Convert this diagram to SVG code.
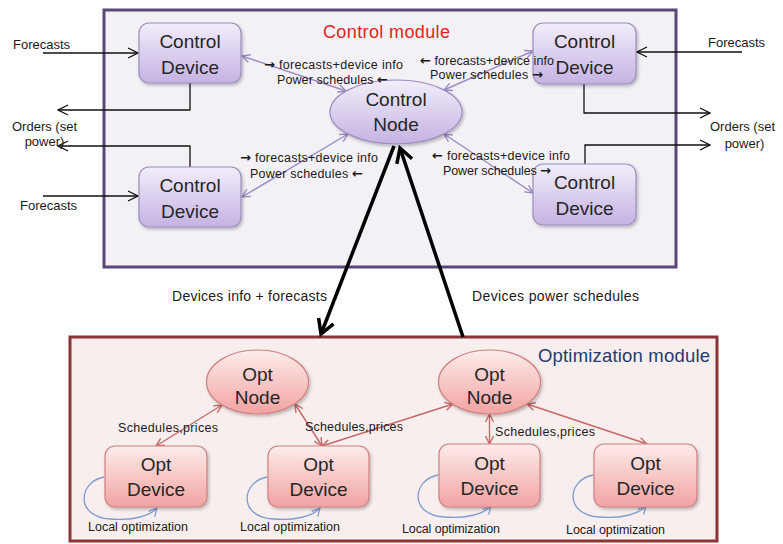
<svg xmlns="http://www.w3.org/2000/svg" width="783" height="544" viewBox="0 0 783 544">
<style>
text{font-family:"Liberation Sans",Arial,sans-serif;fill:#1a1a1a}
.ar{font-family:"DejaVu Sans",sans-serif;font-size:13px;font-weight:bold}
.nt{font-size:19px;text-anchor:middle;fill:#262626}
.lb{font-size:12.5px}
.ext{font-size:13px}
.big{font-size:14px}
.cn{fill:none;stroke:#9b8ac4;stroke-width:1.4;marker-start:url(#mp);marker-end:url(#mp)}
.rn{fill:none;stroke:#c46a68;stroke-width:1.4;marker-start:url(#mr);marker-end:url(#mr)}
.ex{fill:none;stroke:#111;stroke-width:1.3;marker-end:url(#mk)}
.bg{fill:none;stroke:#000;stroke-width:3.5;marker-end:url(#mb)}
.lp{fill:none;stroke:#7f9bd0;stroke-width:1.3;marker-end:url(#mu)}
.cd{fill:url(#gp);stroke:#9c8cbf;stroke-width:1.2;filter:url(#sh)}
.od{fill:url(#gr);stroke:#cf8080;stroke-width:1.2;filter:url(#sh)}
</style>
<defs>
<linearGradient id="gp" x1="0" y1="0" x2="0" y2="1"><stop offset="0" stop-color="#f2eefa"/><stop offset="1" stop-color="#c5b2e2"/></linearGradient>
<linearGradient id="gr" x1="0" y1="0" x2="0" y2="1"><stop offset="0" stop-color="#fdeceb"/><stop offset="1" stop-color="#f1a3a1"/></linearGradient>
<filter id="sh" x="-20%" y="-20%" width="140%" height="150%"><feDropShadow dx="1.5" dy="2" stdDeviation="1.5" flood-color="#000" flood-opacity="0.25"/></filter>
<marker id="mp" viewBox="0 0 10 10" refX="9" refY="5" markerWidth="10" markerHeight="10" markerUnits="userSpaceOnUse" orient="auto-start-reverse"><path d="M1,1 L9,5 L1,9" fill="none" stroke="#9b8ac4" stroke-width="1.4"/></marker>
<marker id="mr" viewBox="0 0 10 10" refX="9" refY="5" markerWidth="10" markerHeight="10" markerUnits="userSpaceOnUse" orient="auto-start-reverse"><path d="M1,1 L9,5 L1,9" fill="none" stroke="#c46a68" stroke-width="1.4"/></marker>
<marker id="mk" viewBox="0 0 12 12" refX="11" refY="6" markerWidth="12" markerHeight="12" markerUnits="userSpaceOnUse" orient="auto"><path d="M1,1 L11,6 L1,11" fill="none" stroke="#111" stroke-width="1.3"/></marker>
<marker id="mb" viewBox="0 0 20 20" refX="17" refY="10" markerWidth="20" markerHeight="20" markerUnits="userSpaceOnUse" orient="auto"><path d="M3,2 L17,10 L3,18" fill="none" stroke="#000" stroke-width="3.5"/></marker>
<marker id="mu" viewBox="0 0 10 10" refX="9" refY="5" markerWidth="10" markerHeight="10" markerUnits="userSpaceOnUse" orient="auto"><path d="M1,1 L9,5 L1,9" fill="none" stroke="#7f9bd0" stroke-width="1.3"/></marker>
</defs>
<rect width="783" height="544" fill="#fff"/>

<g id="control-module">
<rect x="104" y="10" width="572" height="257" fill="#f3f1f6" stroke="#5a4878" stroke-width="3"/>
<text x="323" y="38" font-size="18" style="fill:#e02424" textLength="127">Control module</text>
</g>
<g id="opt-module">
<rect x="70" y="337" width="647" height="204" fill="#f9eeee" stroke="#8a3535" stroke-width="3"/>
<text x="538" y="362" font-size="18.5" style="fill:#1f3a6e" textLength="172">Optimization module</text>
</g>

<g id="connectors">
<path class="cn" d="M242,56 L346,91"/>
<path class="cn" d="M444,90 L533,51"/>
<path class="cn" d="M348,134 L242,197"/>
<path class="cn" d="M444,134 L533,193"/>
<path class="ex" d="M43,53 H138"/>
<path class="ex" d="M190,83 V110 H58"/>
<path class="ex" d="M190,167 V146 H58"/>
<path class="ex" d="M43,196 H138"/>
<path class="ex" d="M742,52 H637"/>
<path class="ex" d="M584,84 V113 H710"/>
<path class="ex" d="M585,164 V145 H710"/>
<path class="bg" d="M394,146 L321,334"/>
<path class="bg" d="M463,337 L400,148"/>
<path class="rn" d="M222,405 L156,446"/>
<path class="rn" d="M295,404 L322,446"/>
<path class="rn" d="M453,404 L322,446"/>
<path class="rn" d="M489.5,414 L489.5,444"/>
<path class="rn" d="M527,404 L647,444"/>
<path class="lp" d="M104,477 C78,482 75,517 110,519 C132,521 150,516 157,508"/>
<path class="lp" d="M267,477 C241,482 238,517 273,519 C295,521 313,516 320,508"/>
<path class="lp" d="M438,475 C412,480 409,515 444,517 C466,519 484,514 491,506"/>
<path class="lp" d="M593,475 C567,480 564,515 599,517 C621,519 639,514 646,506"/>
</g>

<g id="control-device-tl">
<rect class="cd" x="139" y="23" width="102" height="60" rx="10"/>
<text class="nt" x="190" y="48">Control</text>
<text class="nt" x="190" y="74">Device</text>
</g>
<g id="control-device-tr">
<rect class="cd" x="533" y="23" width="103" height="61" rx="10"/>
<text class="nt" x="584.5" y="48">Control</text>
<text class="nt" x="584.5" y="74">Device</text>
</g>
<g id="control-device-bl">
<rect class="cd" x="139" y="167" width="102" height="60" rx="10"/>
<text class="nt" x="190" y="192">Control</text>
<text class="nt" x="190" y="218">Device</text>
</g>
<g id="control-device-br">
<rect class="cd" x="533" y="164" width="103" height="61" rx="10"/>
<text class="nt" x="584.5" y="189">Control</text>
<text class="nt" x="584.5" y="215">Device</text>
</g>
<g id="control-node">
<ellipse class="cd" cx="396" cy="112" rx="66" ry="32"/>
<text class="nt" x="396" y="106">Control</text>
<text class="nt" x="396" y="131">Node</text>
</g>

<g id="opt-node-1">
<ellipse class="od" cx="257.5" cy="382" rx="51" ry="32"/>
<text class="nt" x="257.5" y="381">Opt</text>
<text class="nt" x="257.5" y="404">Node</text>
</g>
<g id="opt-node-2">
<ellipse class="od" cx="489.5" cy="382" rx="51" ry="32"/>
<text class="nt" x="489.5" y="381">Opt</text>
<text class="nt" x="489.5" y="404">Node</text>
</g>
<g id="opt-device-1">
<rect class="od" x="105" y="446" width="102" height="61" rx="10"/>
<text class="nt" x="156" y="471">Opt</text>
<text class="nt" x="156" y="496">Device</text>
</g>
<g id="opt-device-2">
<rect class="od" x="268" y="446" width="101" height="61" rx="10"/>
<text class="nt" x="318.5" y="471">Opt</text>
<text class="nt" x="318.5" y="496">Device</text>
</g>
<g id="opt-device-3">
<rect class="od" x="439" y="444" width="101" height="63" rx="10"/>
<text class="nt" x="489.5" y="470">Opt</text>
<text class="nt" x="489.5" y="495">Device</text>
</g>
<g id="opt-device-4">
<rect class="od" x="594" y="444" width="103" height="63" rx="10"/>
<text class="nt" x="645.5" y="470">Opt</text>
<text class="nt" x="645.5" y="495">Device</text>
</g>

<g id="connector-labels">
<text class="lb" x="264" y="69" textLength="139"><tspan class="ar">→</tspan> forecasts+device info</text>
<text class="lb" x="277" y="84" textLength="111">Power schedules <tspan class="ar">←</tspan></text>
<text class="lb" x="420" y="65" textLength="134"><tspan class="ar">←</tspan> forecasts+device info</text>
<text class="lb" x="430" y="79" textLength="113">Power schedules <tspan class="ar">→</tspan></text>
<text class="lb" x="240" y="162" textLength="138"><tspan class="ar">→</tspan> forecasts+device info</text>
<text class="lb" x="250" y="178" textLength="113">Power schedules <tspan class="ar">←</tspan></text>
<text class="lb" x="432" y="160" textLength="138"><tspan class="ar">←</tspan> forecasts+device info</text>
<text class="lb" x="443" y="175" textLength="108">Power schedules <tspan class="ar">→</tspan></text>
<text class="ext" x="13" y="49">Forecasts</text>
<text class="ext" x="44.5" y="131" text-anchor="middle">Orders (set</text>
<text class="ext" x="44.5" y="146" text-anchor="middle">power)</text>
<text class="ext" x="20" y="210">Forecasts</text>
<text class="ext" x="708" y="47">Forecasts</text>
<text class="ext" x="742.5" y="131" text-anchor="middle">Orders (set</text>
<text class="ext" x="744.5" y="148" text-anchor="middle">power)</text>
<text class="big" x="172" y="301" textLength="155">Devices info + forecasts</text>
<text class="big" x="472" y="301" textLength="167">Devices power schedules</text>
<text class="lb" x="118" y="432" textLength="100">Schedules,prices</text>
<text class="lb" x="305" y="431" textLength="98">Schedules,prices</text>
<text class="lb" x="495" y="436" textLength="100">Schedules,prices</text>
<text class="lb" x="88" y="531" textLength="100">Local optimization</text>
<text class="lb" x="240" y="531" textLength="100">Local optimization</text>
<text class="lb" x="402" y="533" textLength="98">Local optimization</text>
<text class="lb" x="566" y="534" textLength="99">Local optimization</text>
</g>
</svg>
